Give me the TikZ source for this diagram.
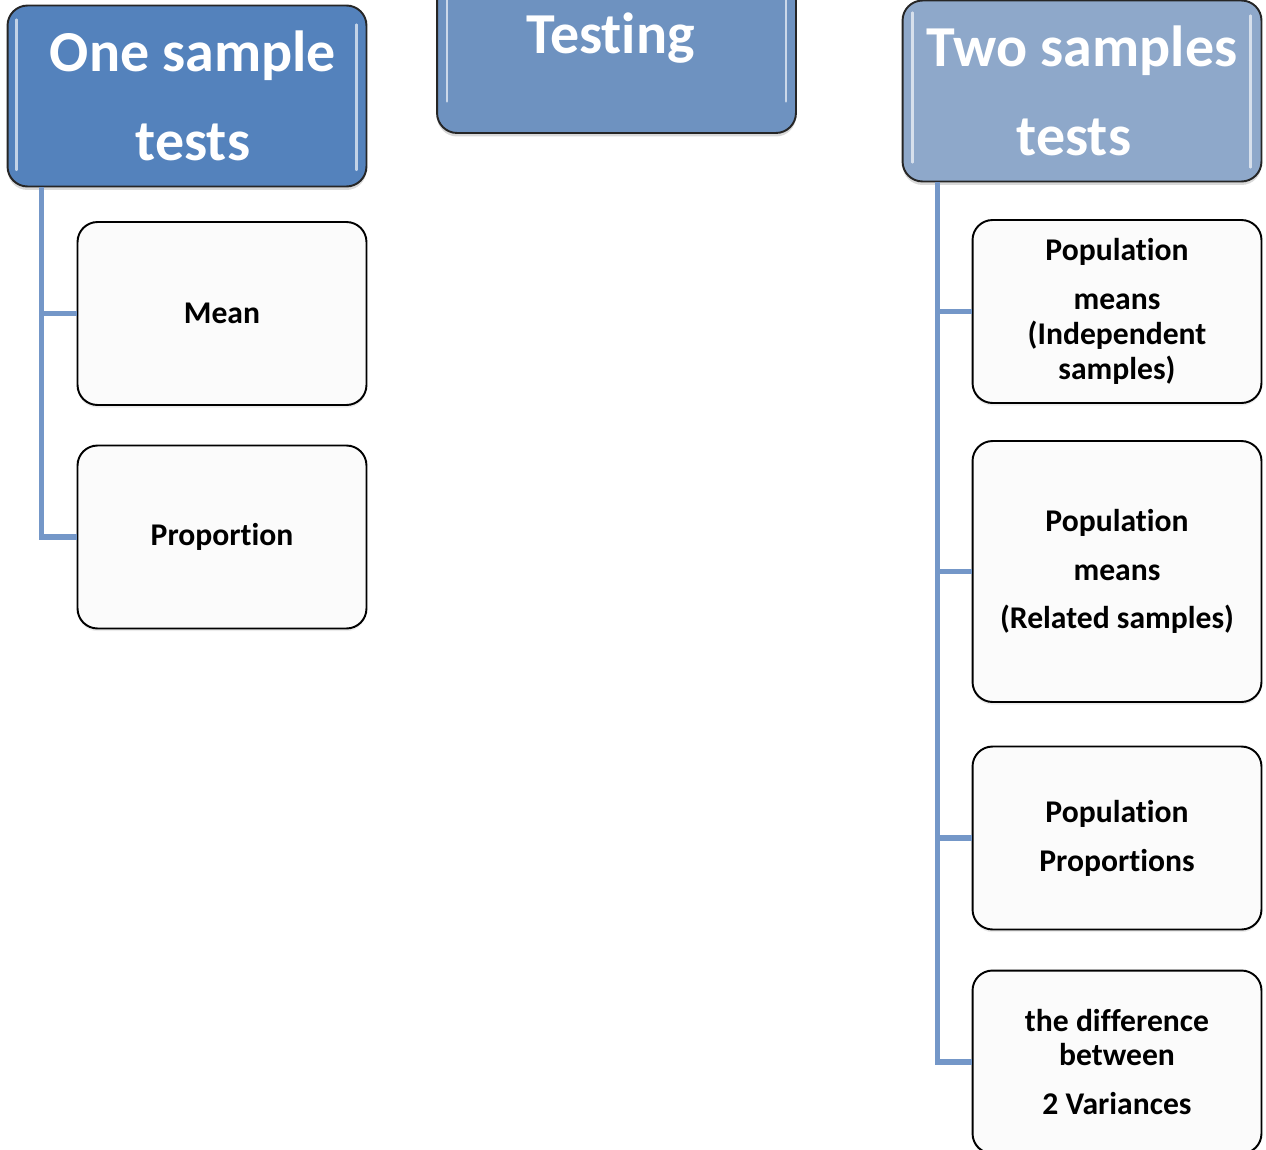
\documentclass[tikz,border=0pt]{standalone}
\usepackage{fontspec}
\setmainfont{Carlito}[Ligatures=NoCommon]
\usetikzlibrary{shadows}

\definecolor{oneblue}{RGB}{84,130,188}
\definecolor{testblue}{RGB}{110,146,192}
\definecolor{twoblue}{RGB}{142,168,202}
\definecolor{linkblue}{RGB}{116,151,200}

\begin{document}
\begin{tikzpicture}[x=0.02cm, y=-0.02cm,
  head/.style={draw=black!85, line width=1.1pt, rounded corners=0.4cm,
    text=white, minimum width=7.18cm, minimum height=3.62cm, align=center,
    font=\fontsize{33}{51}\selectfont\bfseries,
    drop shadow={shadow xshift=0pt, shadow yshift=-2pt, opacity=0.3}},
  leaf/.style={draw=black, line width=1.1pt, rounded corners=0.4cm,
    fill=gray!3, minimum width=5.78cm, minimum height=3.66cm, align=center,
    font=\fontsize{18}{19.8}\selectfont\bfseries,
    drop shadow={shadow xshift=0pt, shadow yshift=-1.5pt, opacity=0.15}},
  link/.style={draw=linkblue, line width=3.2pt},
  shine/.style={white, opacity=0.65, line width=1.3pt, line cap=round}]
  \clip (0, 0) rectangle (1266, 1149);

  % headers
  \node[head, fill=oneblue] (one) at (187, 96) {\hspace*{0.24cm}One sample\\\hspace*{0.24cm}tests};
  \node[head, fill=testblue, minimum height=3.8cm] (test) at (616.5, 38) {Testing\hspace*{0.24cm}};
  \node[head, fill=twoblue] (two) at (1082, 91) {Two samples\\tests\hspace*{0.32cm}};

  \draw[shine] ([xshift=0.2cm, yshift=-0.3cm]one.north west) -- ([xshift=0.2cm, yshift=0.35cm]one.south west);
  \draw[shine] ([xshift=-0.22cm, yshift=-0.4cm]one.north east) -- ([xshift=-0.22cm, yshift=0.35cm]one.south east);
  \draw[shine] ([xshift=0.22cm]test.north west) -- ([xshift=0.22cm, yshift=0.65cm]test.south west);
  \draw[shine] ([xshift=-0.22cm]test.north east) -- ([xshift=-0.22cm, yshift=0.65cm]test.south east);
  \draw[shine] ([xshift=0.22cm, yshift=-0.26cm]two.north west) -- ([xshift=0.22cm, yshift=0.4cm]two.south west);
  \draw[shine] ([xshift=-0.24cm, yshift=-0.32cm]two.north east) -- ([xshift=-0.24cm, yshift=0.3cm]two.south east);

  % one sample
  \node[leaf] (mean) at (222, 313.5) {Mean};
  \node[leaf] (prop) at (222, 537) {Proportion};

  % two samples
  \node[leaf] (indep) at (1117, 311.5) {Population\\[8pt]means\\(Independent\\samples)};
  \node[leaf, minimum height=5.22cm] (related) at (1117, 571.5) {Population\\[8pt]means\\[8pt](Related samples)};
  \node[leaf] (props) at (1117, 838) {Population\\[8pt]Proportions};
  \node[leaf] (diff) at (1117, 1062) {the difference\\between\\[8pt]2 Variances};

  \draw[link] ([xshift=0.7cm]one.south west) |- (mean.west);
  \draw[link] ([xshift=0.7cm]one.south west) |- (prop.west);

  \draw[link] ([xshift=0.72cm]two.south west) |- (indep.west);
  \draw[link] ([xshift=0.72cm]two.south west) |- (related.west);
  \draw[link] ([xshift=0.72cm]two.south west) |- (props.west);
  \draw[link] ([xshift=0.72cm]two.south west) |- (diff.west);
\end{tikzpicture}
\end{document}
